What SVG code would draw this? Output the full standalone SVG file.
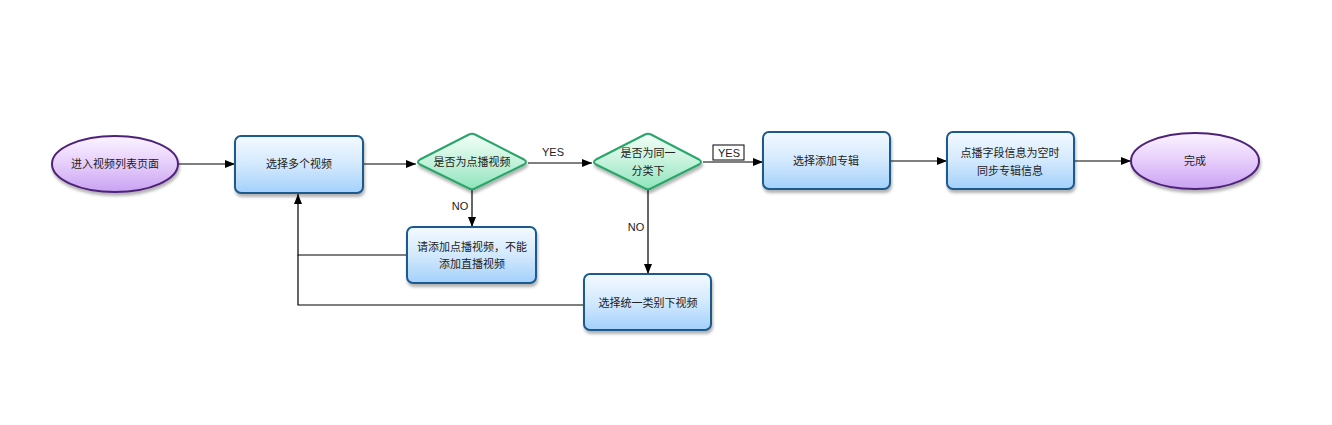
<svg xmlns="http://www.w3.org/2000/svg" width="1332" height="425" viewBox="0 0 1332 425">
<defs>
<linearGradient id="gBox" x1="0" y1="0" x2="0" y2="1">
<stop offset="0" stop-color="#f4f9ff"/><stop offset="0.5" stop-color="#d3e9fd"/><stop offset="1" stop-color="#a3d0fb"/>
</linearGradient>
<linearGradient id="gDia" x1="0" y1="0" x2="0" y2="1">
<stop offset="0" stop-color="#f2fff8"/><stop offset="0.5" stop-color="#c6f2dc"/><stop offset="1" stop-color="#8ee4bc"/>
</linearGradient>
<linearGradient id="gEll" x1="0" y1="0" x2="0" y2="1">
<stop offset="0" stop-color="#fbf4ff"/><stop offset="0.5" stop-color="#e6cdfb"/><stop offset="1" stop-color="#c9a2f2"/>
</linearGradient>
<filter id="sh" x="-20%" y="-20%" width="140%" height="150%">
<feDropShadow dx="1" dy="3" stdDeviation="1.5" flood-color="#000" flood-opacity="0.3"/>
</filter>
<marker id="arr" viewBox="0 0 10 10" refX="10" refY="5" markerWidth="10" markerHeight="10" markerUnits="userSpaceOnUse" orient="auto">
<path d="M0,1 L10,5 L0,9 z" fill="#000"/>
</marker>
</defs>
<style>
.box{fill:url(#gBox);stroke:#1b5a8c;stroke-width:2;filter:url(#sh)}
.dia{fill:url(#gDia);stroke:#2aa56a;stroke-width:2;stroke-linejoin:round;filter:url(#sh)}
.ell{fill:url(#gEll);stroke:#4f2379;stroke-width:2;filter:url(#sh)}
.t{font-family:"Liberation Sans","Noto Sans CJK SC",sans-serif;font-size:11px;fill:#222;text-anchor:middle}
.lbl{font-family:"Liberation Sans","Noto Sans CJK SC",sans-serif;font-size:11px;fill:#222;text-anchor:middle}
.c{fill:none;stroke:#000;stroke-width:1.2}
</style>
<rect width="1332" height="425" fill="#fff"/>
<g id="connectors">
<path class="c" d="M178,164 L235,164" marker-end="url(#arr)"/>
<path class="c" d="M363,164 L416,164" marker-end="url(#arr)"/>
<path class="c" d="M528,163 L592,163" marker-end="url(#arr)"/>
<text class="lbl" x="553" y="156">YES</text>
<path class="c" d="M703,162 L763,162" marker-end="url(#arr)"/>
<rect x="713" y="145" width="31" height="15" fill="#fff" stroke="#000" stroke-width="1"/>
<text class="lbl" x="729" y="157" font-size="12">YES</text>
<path class="c" d="M890,161 L947,161" marker-end="url(#arr)"/>
<path class="c" d="M1074,161 L1131,161" marker-end="url(#arr)"/>
<path class="c" d="M472,190 L472,227" marker-end="url(#arr)"/>
<text class="lbl" x="460" y="210">NO</text>
<path class="c" d="M407,255 L298,255 L298,194" marker-end="url(#arr)"/>
<path class="c" d="M648,190 L648,274" marker-end="url(#arr)"/>
<text class="lbl" x="636" y="231">NO</text>
<path class="c" d="M584,305 L298,305 L298,255"/>
</g>
<g id="start">
<ellipse class="ell" cx="115" cy="164" rx="63" ry="28"/>
<text class="t" x="115" y="168">进入视频列表页面</text>
</g>
<g id="selectMulti">
<rect class="box" x="235" y="136" width="128" height="57" rx="6"/>
<text class="t" x="299" y="168">选择多个视频</text>
</g>
<g id="isVod">
<path class="dia" d="M469,134.5 Q472,133 475,134.5 L524,159.5 Q528,162 524,164.5 L475,188.5 Q472,190 469,188.5 L420,164.5 Q416,162 420,159.5 Z"/>
<text class="t" x="472" y="166">是否为点播视频</text>
</g>
<g id="sameCat">
<path class="dia" d="M645,134.5 Q648,133 651,134.5 L699,159.5 Q703,162 699,164.5 L651,188.5 Q648,190 645,188.5 L596,164.5 Q592,162 596,159.5 Z"/>
<text class="t" x="648" y="157">是否为同一</text>
<text class="t" x="648" y="175">分类下</text>
</g>
<g id="addAlbum">
<rect class="box" x="763" y="132" width="127" height="57" rx="6"/>
<text class="t" x="826" y="165">选择添加专辑</text>
</g>
<g id="sync">
<rect class="box" x="947" y="132" width="127" height="57" rx="6"/>
<text class="t" x="1010" y="157">点播字段信息为空时</text>
<text class="t" x="1010" y="175">同步专辑信息</text>
</g>
<g id="end">
<ellipse class="ell" cx="1195" cy="161" rx="64" ry="28"/>
<text class="t" x="1195" y="165">完成</text>
</g>
<g id="addVod">
<rect class="box" x="407" y="227" width="129" height="56" rx="6"/>
<text class="t" x="472" y="251">请添加点播视频，不能</text>
<text class="t" x="472" y="268">添加直播视频</text>
</g>
<g id="selectSame">
<rect class="box" x="584" y="274" width="127" height="56" rx="6"/>
<text class="t" x="648" y="307">选择统一类别下视频</text>
</g>
</svg>
